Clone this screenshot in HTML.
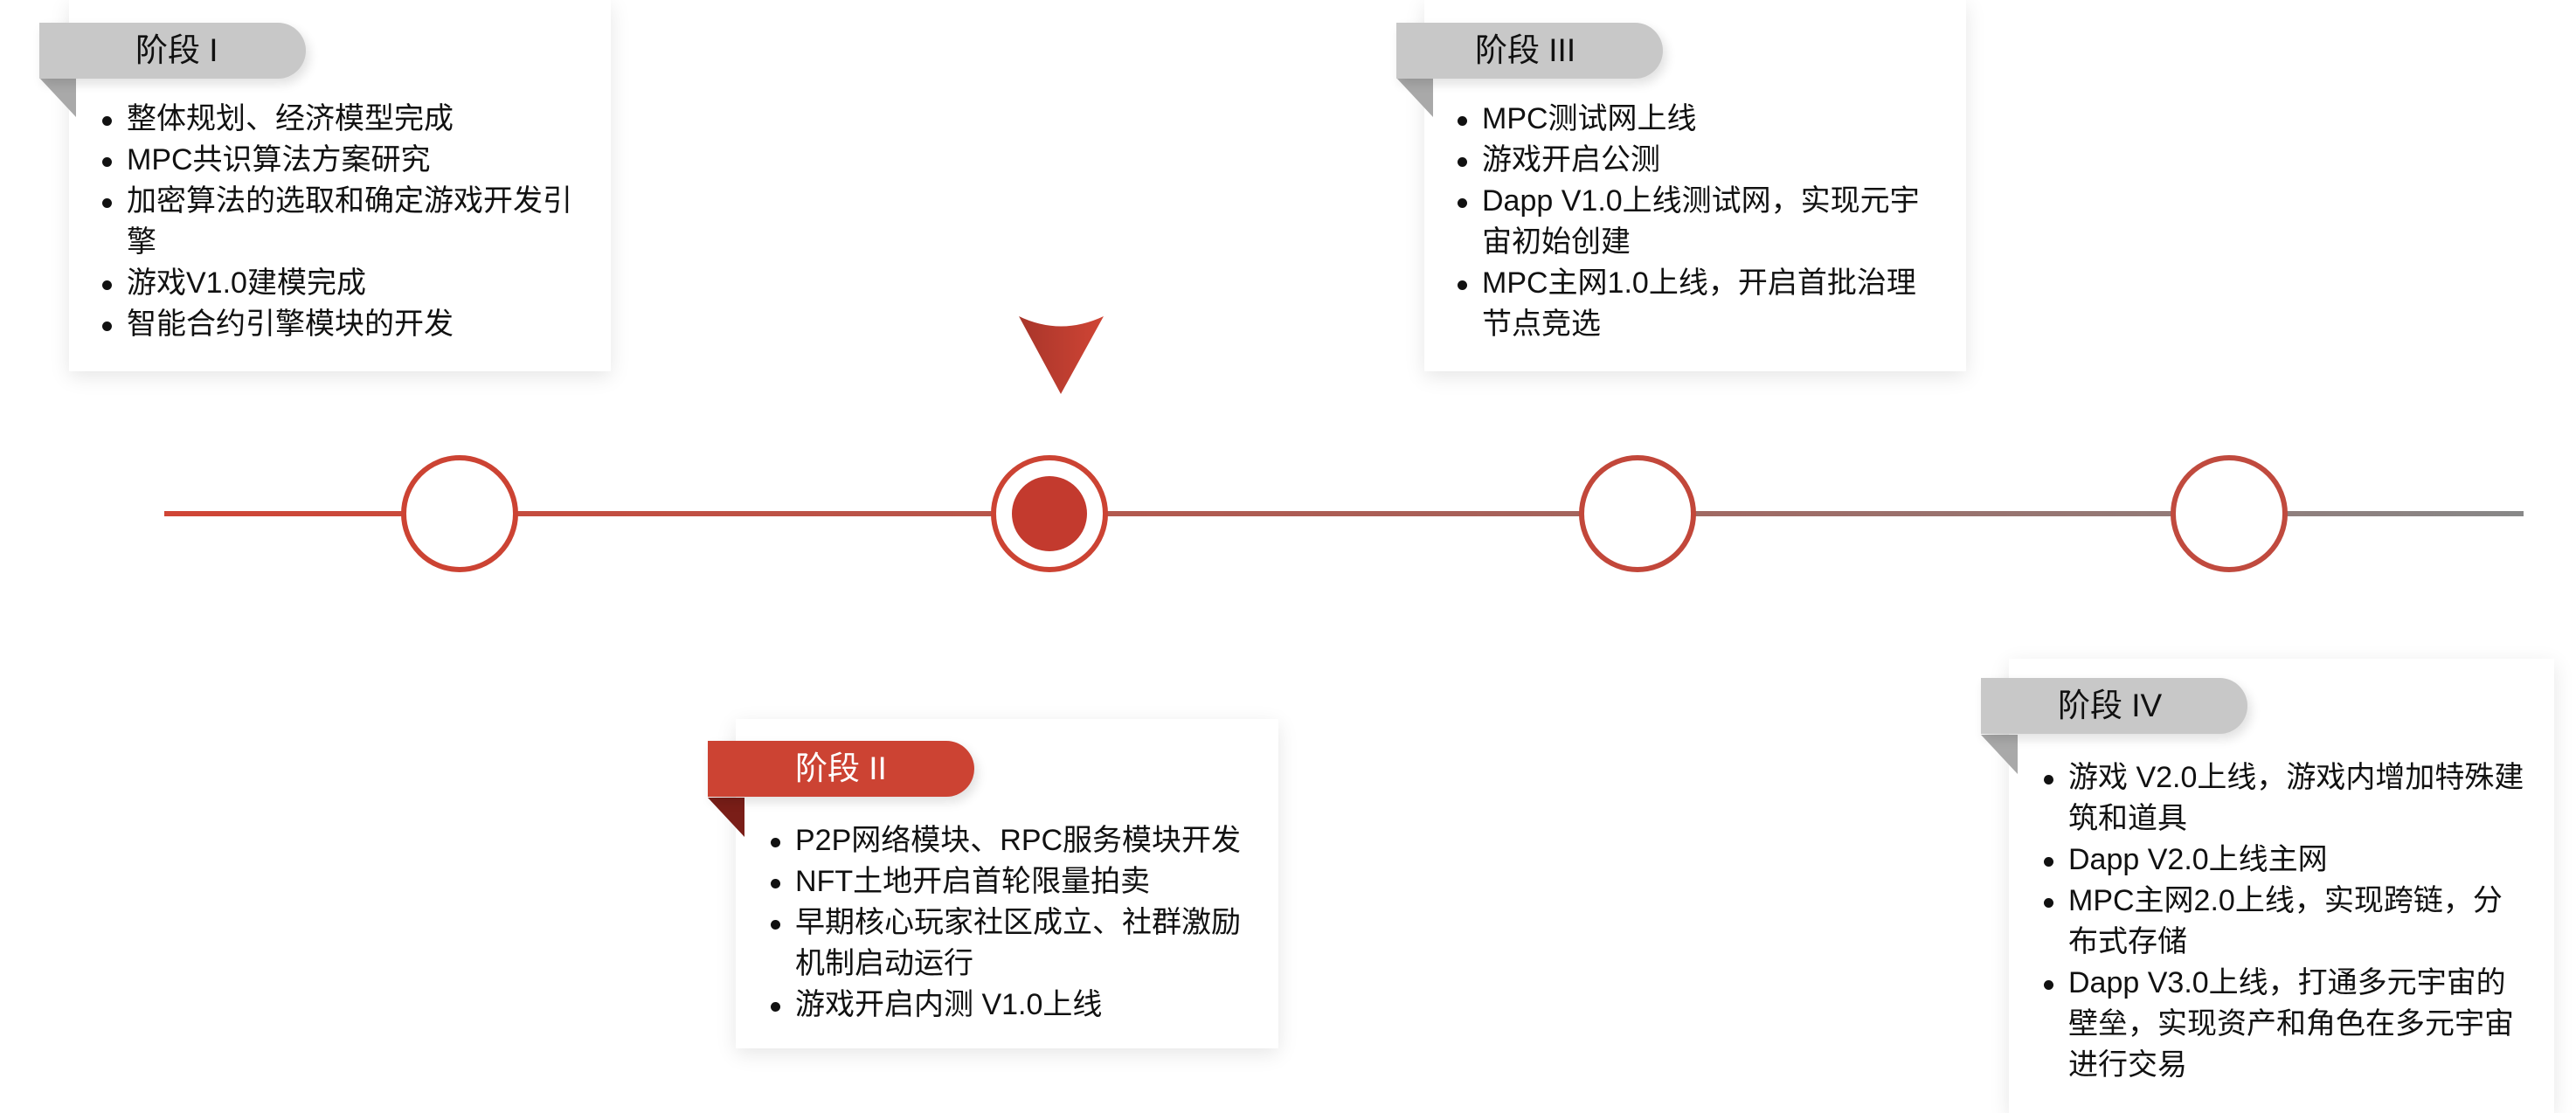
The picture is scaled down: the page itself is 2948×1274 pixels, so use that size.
<!DOCTYPE html>
<html><head><meta charset="utf-8"><style>
html,body{margin:0;padding:0;background:#fff;}
body{width:2948px;height:1260px;position:relative;overflow:hidden;font-family:"Liberation Sans","Noto Sans CJK SC",sans-serif;color:#111;}
.card{position:absolute;background:#fff;box-shadow:0 6px 22px rgba(0,0,0,0.10);}
.tab{position:absolute;height:64px;border-radius:0 32px 32px 0;background:#c8c8c8;font-size:37px;line-height:64px;box-shadow:4px 6px 12px rgba(0,0,0,0.12);}
.tab span{position:absolute;left:110px;}
.fold{position:absolute;width:0;height:0;border-top:45px solid #a9a9a9;border-left:42px solid transparent;}
ul{position:absolute;margin:0;padding:0;list-style:none;font-size:34px;line-height:47px;}
li{position:relative;padding-left:28px;}
li:before{content:"";position:absolute;left:0;top:20px;width:11px;height:11px;border-radius:50%;background:#111;}
.red{background:#cc4333;color:#fff;}
</style></head><body>

<svg style="position:absolute;left:0;top:0" width="2948" height="1260">
<defs><linearGradient id="g" x1="188" x2="2888" y1="0" y2="0" gradientUnits="userSpaceOnUse">
<stop offset="0" stop-color="#d04535"/><stop offset="0.55" stop-color="#a86058"/><stop offset="1" stop-color="#888"/></linearGradient>
<linearGradient id="a" x1="0" x2="1"><stop offset="0" stop-color="#a8352a"/><stop offset="1" stop-color="#d04535"/></linearGradient></defs>
<rect x="188" y="585" width="2700" height="6" fill="url(#g)"/>
<g fill="#fff" stroke-width="6">
<circle cx="526" cy="588" r="64" stroke="#cc4333"/>
<circle cx="1201" cy="588" r="64" stroke="#cc4333"/>
<circle cx="1874" cy="588" r="64" stroke="#c2473a"/>
<circle cx="2551" cy="588" r="64" stroke="#c04a3e"/>
</g>
<circle cx="1201" cy="588" r="43" fill="#c33a2e"/>
<path d="M1166 362 Q1214 385 1263 362 L1214 451 Z" fill="url(#a)"/>
</svg>

<div class="card" style="left:79px;top:0;width:620px;height:425px"></div>
<div class="fold" style="left:45px;top:89px"></div>
<div class="tab" style="left:45px;top:26px;width:305px"><span>阶段 I</span></div>
<ul style="left:117px;top:113px">
<li>整体规划、经济模型完成</li>
<li>MPC共识算法方案研究</li>
<li>加密算法的选取和确定游戏开发引<br>擎</li>
<li>游戏V1.0建模完成</li>
<li>智能合约引擎模块的开发</li>
</ul>

<div class="card" style="left:1630px;top:0;width:620px;height:425px"></div>
<div class="fold" style="left:1598px;top:89px"></div>
<div class="tab" style="left:1598px;top:26px;width:305px"><span style="left:90px">阶段 III</span></div>
<ul style="left:1668px;top:113px">
<li>MPC测试网上线</li>
<li>游戏开启公测</li>
<li>Dapp V1.0上线测试网，实现元宇<br>宙初始创建</li>
<li>MPC主网1.0上线，开启首批治理<br>节点竞选</li>
</ul>

<div class="card" style="left:842px;top:823px;width:621px;height:377px"></div>
<div class="fold" style="left:810px;top:913px;border-top-color:#7a1e18"></div>
<div class="tab red" style="left:810px;top:848px;width:305px"><span style="left:100px">阶段 II</span></div>
<ul style="left:882px;top:939px">
<li>P2P网络模块、RPC服务模块开发</li>
<li>NFT土地开启首轮限量拍卖</li>
<li>早期核心玩家社区成立、社群激励<br>机制启动运行</li>
<li>游戏开启内测 V1.0上线</li>
</ul>

<div class="card" style="left:2299px;top:754px;width:624px;height:520px"></div>
<div class="fold" style="left:2267px;top:841px"></div>
<div class="tab" style="left:2267px;top:776px;width:305px"><span style="left:88px">阶段 IV</span></div>
<ul style="left:2339px;top:867px">
<li>游戏 V2.0上线，游戏内增加特殊建<br>筑和道具</li>
<li>Dapp V2.0上线主网</li>
<li>MPC主网2.0上线，实现跨链，分<br>布式存储</li>
<li>Dapp V3.0上线，打通多元宇宙的<br>壁垒，实现资产和角色在多元宇宙<br>进行交易</li>
</ul>
</body></html>
